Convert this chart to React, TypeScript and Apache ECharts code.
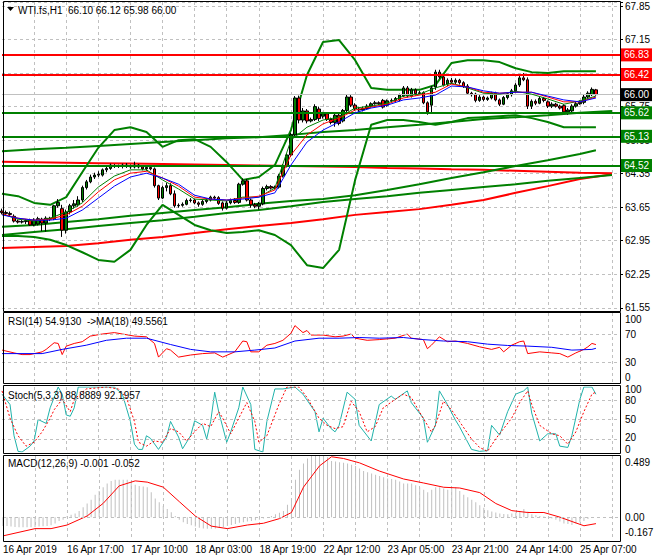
import React, { useEffect, useRef } from 'react';
import * as echarts from 'echarts';

const FONT = "'Liberation Sans', Arial, Helvetica, sans-serif";

// ---- time axis ----
const timeLabels = ['16 Apr 2019', '16 Apr 17:00', '17 Apr 10:00', '18 Apr 03:00', '18 Apr 19:00', '22 Apr 12:00', '23 Apr 05:00', '23 Apr 21:00', '24 Apr 14:00', '25 Apr 07:00'];
const LABEL_STEP = 16;
const GRID_STEP = 8;
const SLOT_COUNT = 155;

// ---- H1 candles (bar 0 .. 148) ----
const opens = [63.57,63.54,63.52,63.46,63.36,63.34,63.35,63.38,63.28,63.30,63.40,63.32,63.42,63.41,63.68,63.62,63.17,63.55,63.68,63.70,63.80,64.06,64.18,64.28,64.32,64.32,64.43,64.46,64.52,64.50,64.50,64.53,64.51,64.49,64.53,64.49,64.45,64.48,64.45,64.10,63.84,64.06,64.10,63.93,63.68,63.69,63.71,63.79,63.80,63.74,63.71,63.77,63.80,63.86,63.85,63.74,63.63,63.74,63.79,63.75,64.13,64.20,63.80,63.70,63.67,63.72,64.04,64.08,64.05,64.07,64.30,64.51,64.74,65.16,65.93,65.47,65.66,65.45,65.48,65.70,65.55,65.60,65.48,65.42,65.57,65.45,65.67,65.95,65.78,65.70,65.68,65.71,65.76,65.81,65.83,65.88,65.78,65.87,65.88,65.89,65.97,66.14,65.97,66.10,66.02,66.04,65.83,65.78,66.16,66.47,66.37,66.22,66.30,66.26,66.30,66.25,66.18,66.03,66.01,65.88,65.95,65.90,65.93,66.03,65.89,65.80,65.94,66.00,66.08,66.20,66.35,66.31,65.76,65.86,65.82,65.92,65.85,65.76,65.80,65.76,65.77,65.64,65.66,65.76,65.81,65.84,65.95,66.00,66.10];
const highs = [63.62,63.58,63.56,63.50,63.39,63.38,63.40,63.41,63.42,63.45,63.43,63.46,63.45,63.70,63.82,63.70,63.60,63.72,63.80,63.88,64.10,64.22,64.33,64.37,64.40,64.46,64.50,64.56,64.55,64.54,64.56,64.57,64.54,64.60,64.55,64.52,64.52,64.51,64.48,64.12,64.10,64.16,64.15,64.00,63.73,63.75,63.83,63.84,63.83,63.77,63.80,63.84,63.89,63.89,63.88,63.77,63.78,63.83,63.84,64.16,64.25,64.24,63.83,63.74,63.76,64.08,64.12,64.11,64.10,64.34,64.55,64.78,65.20,65.97,65.98,65.72,65.70,65.52,65.80,65.75,65.64,65.62,65.52,65.60,65.60,65.70,66.00,65.99,65.82,65.74,65.75,65.80,65.84,65.87,65.86,65.91,65.90,65.92,65.95,66.02,66.18,66.18,66.14,66.13,66.08,66.07,65.86,66.18,66.52,66.52,66.40,66.34,66.35,66.34,66.33,66.28,66.22,66.06,66.04,65.99,65.98,65.96,66.06,66.06,65.92,65.97,66.05,66.12,66.24,66.40,66.45,66.36,65.90,65.90,65.95,65.95,65.88,65.84,65.83,65.79,65.80,65.72,65.80,65.85,65.88,66.00,66.07,66.15,66.12];
const lows = [63.50,63.48,63.46,63.33,63.31,63.31,63.30,63.26,63.25,63.27,63.15,63.14,63.36,63.38,63.64,63.03,63.10,63.50,63.62,63.66,63.76,64.02,64.15,64.24,64.28,64.29,64.38,64.43,64.47,64.47,64.46,64.47,64.45,64.46,64.46,64.42,64.41,64.42,64.06,63.80,63.82,63.98,63.90,63.64,63.64,63.66,63.69,63.75,63.71,63.66,63.68,63.73,63.77,63.81,63.70,63.58,63.60,63.71,63.72,63.72,64.10,63.77,63.64,63.63,63.60,63.69,64.00,64.02,64.02,64.04,64.27,64.48,64.70,65.12,65.40,65.42,65.40,65.42,65.45,65.45,65.50,65.45,65.38,65.33,65.36,65.42,65.63,65.74,65.66,65.64,65.65,65.68,65.73,65.79,65.78,65.71,65.75,65.84,65.85,65.86,65.95,65.94,65.94,65.98,65.99,65.80,65.58,65.60,66.10,66.33,66.17,66.18,66.22,66.22,66.21,66.14,66.00,65.96,65.84,65.85,65.86,65.87,65.90,65.86,65.76,65.78,65.90,65.96,66.04,66.16,66.28,65.70,65.70,65.78,65.80,65.84,65.72,65.72,65.73,65.69,65.60,65.58,65.62,65.73,65.79,65.80,65.92,65.97,65.98];
const closes = [63.54,63.52,63.50,63.36,63.34,63.35,63.37,63.28,63.38,63.41,63.32,63.42,63.40,63.68,63.75,63.17,63.55,63.68,63.72,63.80,64.06,64.18,64.28,64.32,64.34,64.43,64.46,64.53,64.50,64.51,64.53,64.51,64.49,64.53,64.49,64.45,64.48,64.45,64.10,63.84,64.06,64.10,63.93,63.68,63.69,63.71,63.79,63.80,63.74,63.71,63.77,63.80,63.86,63.84,63.73,63.63,63.74,63.79,63.75,64.13,64.20,63.80,63.70,63.67,63.72,64.04,64.08,64.05,64.07,64.30,64.51,64.74,65.16,65.93,65.47,65.66,65.45,65.48,65.75,65.50,65.60,65.48,65.42,65.57,65.40,65.67,65.95,65.78,65.70,65.68,65.71,65.76,65.81,65.83,65.81,65.74,65.87,65.88,65.92,65.99,66.14,65.97,66.10,66.02,66.04,65.83,65.64,66.14,66.47,66.37,66.20,66.30,66.26,66.30,66.25,66.17,66.03,66.00,65.88,65.95,65.90,65.93,66.03,65.89,65.80,65.94,66.02,66.08,66.20,66.35,66.31,65.76,65.86,65.82,65.92,65.88,65.76,65.80,65.76,65.72,65.64,65.68,65.76,65.81,65.84,65.95,66.03,66.11,66.00];

// ---- short moving averages, read every 4 bars ----
const MA_STEP = 4;
const maGreen = [63.51,63.40,63.36,63.42,63.55,63.74,64.07,64.30,64.43,64.43,64.22,64.03,63.82,63.80,63.78,63.86,63.86,64.05,65.05,65.32,65.47,65.53,65.72,65.76,65.82,65.97,66.01,66.14,66.24,66.14,66.03,66.01,66.07,66.01,65.91,65.80,65.87,65.97];
const maRed = [63.51,63.42,63.38,63.40,63.49,63.67,63.97,64.22,64.36,64.40,64.26,64.09,63.86,63.82,63.80,63.84,63.88,64.01,64.74,65.16,65.39,65.51,65.68,65.74,65.80,65.93,65.99,66.05,66.22,66.16,66.05,66.03,66.05,66.05,65.95,65.85,65.85,65.95];
const maBlue = [63.49,63.42,63.38,63.38,63.42,63.59,63.84,64.09,64.28,64.36,64.26,64.13,63.90,63.82,63.80,63.82,63.86,63.95,64.53,65.01,65.26,65.43,65.62,65.72,65.78,65.89,65.93,65.99,66.18,66.16,66.08,66.03,66.05,66.05,65.97,65.89,65.85,65.93];

// ---- band curves, read every 4 bars ----
const bandUpper = [63.93,63.88,63.74,63.70,63.86,64.38,64.89,65.26,65.32,65.22,64.91,65.05,65.07,64.91,64.59,64.22,64.28,64.53,65.26,66.41,67.10,67.14,66.72,66.14,66.10,66.10,66.10,66.20,66.66,66.72,66.72,66.68,66.55,66.47,66.45,66.49,66.49,66.49];
const bandLower = [63.05,63.05,63.03,62.97,62.86,62.71,62.55,62.51,62.76,63.28,63.70,63.49,63.28,63.17,63.11,63.13,63.17,63.07,62.86,62.44,62.38,62.76,64.22,65.37,65.47,65.47,65.43,65.37,65.43,65.51,65.53,65.55,65.57,65.51,65.43,65.32,65.32,65.32];

// ---- long lines, read every 8 bars ----
const LONG_STEP = 8;
const longGreenTop = [64.82,64.86,64.89,64.93,64.97,65.01,65.05,65.09,65.11,65.16,65.22,65.26,65.32,65.37,65.43,65.49,65.53,65.57,65.62,65.66];
const longGreenA = [63.24,63.28,63.34,63.40,63.47,63.53,63.59,63.65,63.72,63.78,63.82,63.90,64.01,64.13,64.26,64.38,64.51,64.63,64.76,64.84];
const longGreenABars = [0,8,16,24,32,40,48,56,64,72,80,88,96,104,112,120,128,136,144,148];
const longGreenB = [63.07,63.13,63.19,63.26,63.32,63.38,63.45,63.53,63.59,63.67,63.76,63.82,63.88,63.95,64.01,64.07,64.13,64.20,64.26,64.32];
const longRed = [62.80,62.82,62.84,62.90,62.97,63.03,63.11,63.19,63.26,63.32,63.40,63.49,63.55,63.61,63.70,63.80,63.95,64.09,64.24,64.34];
const redLevelLine = [64.60,64.59,64.58,64.57,64.56,64.55,64.54,64.53,64.52,64.51,64.50,64.49,64.47,64.46,64.44,64.43,64.41,64.39,64.37,64.36];

// ---- horizontal levels ----
const levelPrices = [66.83, 66.42, 65.62, 65.13, 64.52];
const levelColors = ['#ff0000', '#ff0000', '#008000', '#008000', '#008000'];
const bidPrice = 66.0;

// ---- RSI(14) and its MA(18) ----
const rsiBars = [0,3,5,7,10,11,13,14,15,16,18,20,22,25,28,30,33,36,38,39,41,42,44,47,50,53,55,58,60,61,62,64,66,68,70,72,73,75,76,77,80,83,85,87,88,91,94,98,101,102,105,106,107,109,111,113,116,119,122,124,125,127,129,130,131,134,137,139,141,143,145,146,147,148];
const rsiValues = [47,43,40.6,40.6,44.5,48,57.5,56.5,40.6,52.6,56.5,59,67,70,72,70,67,66,56.5,37,49,47,37,40,42,43,37,44.5,60,59,44.5,44.5,54,56.5,61,71,82,72,75,68.5,68.5,66,67,70,64,61,62,64,70,64,62,49,54,66,59,60,56.5,51.7,48,51,44.5,54,59,60,42,44.5,43,42,37,43,48,51.7,56.5,54.91];
const rsiMaBars = [0,10,15,21,26,31,36,42,47,52,58,63,68,73,79,84,89,94,100,105,110,116,121,126,131,137,142,147,148];
const rsiMaValues = [42,42,48,54,61,64,64,55,48,44.5,44.5,47,50,60,64,64,65,64,65,62,60,59,55.5,53.6,52.7,51,47,48,49.56];

// ---- Stochastic(5,3,3) ----
const stochBars = [0,2,3,4,5,7,8,9,11,12,13,14,15,16,17,18,19,22,25,28,30,31,32,33,34,35,36,37,39,41,42,44,45,47,48,50,51,52,53,54,56,57,59,60,62,63,65,66,68,70,73,75,78,79,80,82,83,84,86,88,89,92,94,97,98,101,102,105,106,108,109,111,113,114,117,119,121,122,124,126,128,130,131,132,134,136,138,139,141,142,144,145,147,148];
const stochValues = [89,73,25,1,0,9,17,50,44,68,84,100,89,57,55,68,100,100,100,100,89,68,47,12,4,4,25,21,4,23,47,23,5,25,48,41,20,47,92,62,15,31,68,100,73,4,0,47,97,97,100,89,62,31,52,36,31,41,92,81,41,17,73,86,81,94,76,52,15,41,94,73,49,39,4,1,2,41,26,62,89,94,100,60,17,28,28,9,7,25,81,100,100,88.89];
const stochSigBars = [0,2,4,6,8,10,12,13,15,17,18,21,26,29,31,33,34,36,38,40,42,44,46,48,50,52,54,55,57,59,61,63,64,66,69,71,74,76,79,81,83,85,87,89,91,93,95,98,100,102,104,107,108,110,112,114,117,119,121,123,125,127,129,131,132,134,137,139,141,143,145,147,148];
const stochSigValues = [94,52,25,9,15,31,52,65,81,62,81,97,100,97,84,47,15,9,17,15,36,31,17,31,44,39,62,52,28,52,76,47,15,25,73,100,100,84,52,41,36,39,78,62,31,39,68,81,89,84,62,31,41,78,65,47,20,7,1,20,36,52,76,94,73,41,28,25,12,31,62,89,92.2];

// ---- MACD(12,26,9): main histogram per bar, signal line ----
const macdHist = [-0.07,-0.07,-0.075,-0.078,-0.08,-0.08,-0.08,-0.08,-0.078,-0.075,-0.072,-0.07,-0.065,-0.05,-0.03,-0.02,0.01,0.02,0.03,0.05,0.08,0.11,0.14,0.18,0.21,0.24,0.27,0.29,0.30,0.30,0.30,0.30,0.28,0.26,0.25,0.245,0.24,0.20,0.15,0.12,0.09,0.066,0.04,0.01,-0.02,-0.04,-0.055,-0.065,-0.075,-0.085,-0.09,-0.092,-0.092,-0.09,-0.085,-0.078,-0.07,-0.063,-0.055,-0.045,-0.04,-0.035,-0.03,-0.025,-0.02,-0.01,0.0,0.01,0.023,0.035,0.05,0.10,0.15,0.30,0.38,0.43,0.47,0.49,0.50,0.505,0.51,0.48,0.45,0.445,0.44,0.435,0.43,0.42,0.41,0.39,0.37,0.36,0.35,0.34,0.33,0.32,0.31,0.305,0.30,0.285,0.27,0.27,0.27,0.255,0.24,0.22,0.20,0.22,0.24,0.24,0.23,0.22,0.23,0.24,0.21,0.18,0.16,0.14,0.12,0.095,0.075,0.055,0.045,0.037,0.03,0.025,0.023,0.03,0.037,0.05,0.066,0.045,0.023,0.015,0.01,0.005,0.0,-0.01,-0.02,-0.035,-0.05,-0.055,-0.063,-0.05,-0.04,-0.03,-0.015,-0.006,-0.001];
const macdSigBars = [0,8,12,16,21,25,29,33,36,40,44,48,52,56,61,65,69,72,75,79,82,85,89,94,100,105,110,114,119,123,127,131,135,139,142,145,148];
const macdSigValues = [-0.15,-0.092,-0.092,-0.063,0.009,0.11,0.25,0.29,0.28,0.24,0.124,0.009,-0.072,-0.092,-0.063,-0.049,-0.012,0.037,0.24,0.41,0.483,0.469,0.434,0.368,0.305,0.273,0.239,0.233,0.196,0.109,0.052,0.037,0.037,0.0,-0.035,-0.069,-0.052];

const stepped = (vals: (number | null)[], step: number) => vals.map((v, j) => [j * step, v]);
const zip = (xs: number[], ys: number[]) => xs.map((x, j) => [x, ys[j]]);

export default function App() {
  const ref = useRef<HTMLDivElement>(null);

  useEffect(() => {
    if (!ref.current) return;
    const chart = echarts.init(ref.current, null, { renderer: 'svg' });
    const slots = Array.from({ length: SLOT_COUNT }, (_, i) => String(i));
    const candleData = opens.map((o, i) => [o, closes[i], lows[i], highs[i]]);
    const dashed = { color: '#c0c0c0', type: [3, 3] as any, width: 1 };
    const txt = { fontSize: 10, fontFamily: FONT, color: '#000' };

    const grids = [
      { left: 2, right: 40, top: 2, height: 305.8 },
      { left: 2, right: 40, top: 313, height: 70 },
      { left: 2, right: 40, top: 387, height: 65 },
      { left: 2, right: 40, top: 456, height: 82 },
    ];

    const xAxes = grids.map((_, g) => ({
      type: 'category', gridIndex: g, data: slots, boundaryGap: false,
      axisLine: { show: false }, axisTick: { show: false },
      axisLabel: g === 3 ? {
        show: true, ...txt, align: 'left', margin: 6,
        interval: (i: number) => i % LABEL_STEP === 0 && i / LABEL_STEP < timeLabels.length,
        formatter: (_v: string, i: number) => timeLabels[i / LABEL_STEP] ?? '',
      } : { show: false },
      splitLine: { show: true, interval: (i: number) => i > 0 && i % GRID_STEP === 0, lineStyle: dashed },
    }));

    const richShift = {
      top: { ...txt, padding: [12, 0, 0, 0] },
      top2: { ...txt, padding: [4, 0, 0, 0] },
      up: { ...txt, padding: [0, 0, 4, 0] },
      bot: { ...txt, padding: [0, 0, 11, 0] },
      bot2: { ...txt, padding: [0, 0, 6, 0] },
    };

    const yAxes = [
      {
        type: 'value', gridIndex: 0, position: 'right', min: 61.55, max: 67.934, interval: 0.7,
        axisLine: { show: false }, axisTick: { show: true, length: 3, lineStyle: { color: '#000' } },
        axisLabel: { ...txt, margin: 5, formatter: (v: number) => (v > 67.9 ? '' : v.toFixed(2)) },
        splitLine: { show: true, lineStyle: dashed },
      },
      {
        type: 'value', gridIndex: 1, position: 'right', min: 0, max: 100, interval: 10,
        axisLine: { show: false }, axisTick: { show: false }, splitLine: { show: false },
        axisLabel: {
          ...txt, margin: 5, rich: richShift,
          formatter: (v: number) => (v === 100 ? '{top|100}' : v === 0 ? '{bot|0}' : v === 30 || v === 70 ? String(v) : ''),
        },
      },
      {
        type: 'value', gridIndex: 2, position: 'right', min: 0, max: 100, interval: 10,
        axisLine: { show: false }, axisTick: { show: false }, splitLine: { show: false },
        axisLabel: {
          ...txt, margin: 5, rich: richShift,
          formatter: (v: number) => (v === 100 ? '{top2|100}' : v === 0 ? '{bot2|0}' : v === 20 ? '{up|20}' : v === 50 || v === 80 ? String(v) : ''),
        },
      },
      {
        type: 'value', gridIndex: 3, position: 'right', min: -0.167, max: 0.489, interval: 0.167,
        axisLine: { show: false }, axisTick: { show: false }, splitLine: { show: false },
        axisLabel: {
          ...txt, margin: 5, rich: richShift,
          formatter: (v: number) => (Math.abs(v) < 1e-6 ? '0.00' : v > 0.48 ? '{top|0.489}' : v < -0.16 ? '{bot|-0.167}' : ''),
        },
      },
    ];

    const line = (data: any[], color: string, width: number, g: number, z: number, extra: any = {}) => ({
      type: 'line', xAxisIndex: g, yAxisIndex: g, data, symbol: 'none', silent: true, z,
      lineStyle: { color, width, ...(extra.lineStyle || {}) },
    });

    const levelLine = (values: number[]) => ({
      silent: true, symbol: ['none', 'none'], label: { show: false },
      lineStyle: dashed, data: values.map((v) => ({ yAxis: v })),
    });

    const series: any[] = [
      line(stepped(longRed, LONG_STEP), '#ff0000', 2, 0, 2),
      line(stepped(redLevelLine, LONG_STEP), '#ff0000', 2, 0, 2),
      line(stepped(longGreenTop, LONG_STEP), '#008000', 2, 0, 2),
      line(zip(longGreenABars, longGreenA), '#008000', 2, 0, 2),
      line(stepped(longGreenB, LONG_STEP), '#008000', 2, 0, 2),
      line(stepped(bandUpper, MA_STEP), '#008000', 2, 0, 2),
      line(stepped(bandLower, MA_STEP), '#008000', 2, 0, 2),
      {
        type: 'candlestick', xAxisIndex: 0, yAxisIndex: 0, data: candleData, barWidth: 3, z: 4, silent: true,
        itemStyle: { color: '#008000', color0: '#ff0000', borderColor: '#000', borderColor0: '#000', borderWidth: 1 },
        markLine: {
          silent: true, symbol: ['none', 'none'], precision: 2, z: 5,
          label: {
            show: true, position: 'end', distance: 1, color: '#fff', fontSize: 10, fontFamily: FONT,
            padding: [2, 3, 1, 3], formatter: (p: any) => Number(p.value).toFixed(2),
          },
          data: [
            ...levelPrices.map((p, k) => ({
              yAxis: p, lineStyle: { color: levelColors[k], width: 2, type: 'solid' },
              label: { backgroundColor: levelColors[k] },
            })),
            { yAxis: bidPrice, lineStyle: { color: '#c0c0c0', width: 1, type: 'solid' }, label: { backgroundColor: '#000' } },
          ],
        },
      },
      line(stepped(maGreen, MA_STEP), '#008000', 1, 0, 6),
      line(stepped(maRed, MA_STEP), '#ff0000', 1, 0, 6),
      line(stepped(maBlue, MA_STEP), '#0000ff', 1, 0, 6),
      // RSI
      { ...line(zip(rsiBars, rsiValues), '#ff0000', 1, 1, 4), markLine: levelLine([30, 70]) },
      line(zip(rsiMaBars, rsiMaValues), '#0000ff', 1, 1, 4),
      // Stochastic
      { ...line(zip(stochBars, stochValues), '#20b2aa', 1, 2, 4), markLine: levelLine([20, 50, 80]) },
      line(zip(stochSigBars, stochSigValues), '#ff0000', 1, 2, 5, { lineStyle: { type: [2, 2] } }),
      // MACD
      {
        type: 'bar', xAxisIndex: 3, yAxisIndex: 3, data: macdHist, barWidth: 1, silent: true, z: 2,
        itemStyle: { color: '#c0c0c0' }, markLine: levelLine([0]),
      },
      line(zip(macdSigBars, macdSigValues), '#ff0000', 1, 3, 4),
    ];

    const frame = (y1: number, y2: number) => ({
      type: 'rect', shape: { x: 3.5, y: y1 + 0.5, width: 617, height: y2 - y1 },
      style: { fill: 'none', stroke: '#000', lineWidth: 1 }, z: 50, silent: true,
    });
    const title = (text: string, x: number, y: number) => ({
      type: 'text', x, y, z: 60, silent: true,
      style: { text, fill: '#000', font: `10px ${FONT}` },
    });

    chart.setOption({
      animation: false,
      backgroundColor: '#ffffff',
      grid: grids,
      xAxis: xAxes,
      yAxis: yAxes,
      series,
      graphic: [
        frame(1, 311), frame(312, 383), frame(385, 453), frame(455, 541),
        { type: 'polygon', shape: { points: [[7, 7], [14, 7], [10.5, 11]] }, style: { fill: '#000' }, z: 60, silent: true },
        title('WTI.fs,H1  66.10 66.12 65.98 66.00', 18, 5),
        title('RSI(14) 54.9130  ->MA(18) 49.5561', 8, 316),
        title('Stoch(5,3,3) 88.8889 92.1957', 8, 390),
        title('MACD(12,26,9) -0.001 -0.052', 8, 458),
      ],
    });
    return () => chart.dispose();
  }, []);

  return <div ref={ref} style={{ position: 'absolute', left: 0, top: 0, width: 660, height: 560 }} />;
}
